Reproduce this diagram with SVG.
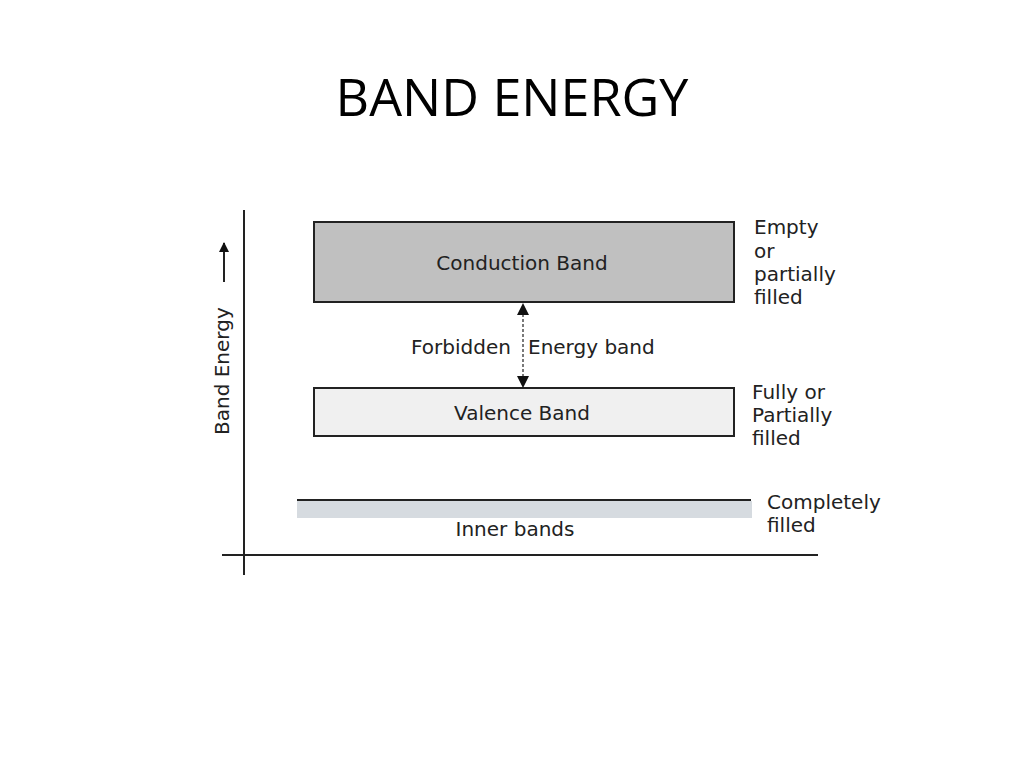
<svg xmlns="http://www.w3.org/2000/svg" width="1024" height="768" viewBox="0 0 1024 768">
<style>
text{font-family:"DejaVu Sans","Liberation Sans",sans-serif;fill:#222;font-size:20px}
.b{stroke:#222;stroke-width:2}
</style>
<defs>
<marker id="ah" markerWidth="10" markerHeight="10" refX="9" refY="5" orient="auto" markerUnits="userSpaceOnUse"><path d="M0,0L10,5L0,10z" fill="#111"/></marker>
</defs>
<rect width="1024" height="768" fill="#fff"/>
<text x="512" y="116" text-anchor="middle" style="font-family:'Open Sans','Liberation Sans',sans-serif;font-size:52px;fill:#000">BAND ENERGY</text>
<g id="axes" class="b">
<line x1="244" y1="210" x2="244" y2="575"/>
<line x1="222" y1="555" x2="818" y2="555"/>
</g>
<g id="ylabel">
<line x1="224" y1="282" x2="224" y2="243" stroke="#222" stroke-width="2" marker-end="url(#ah)"/>
<text transform="translate(229,435) rotate(-90)">Band Energy</text>
</g>
<g id="conduction">
<rect x="314" y="222" width="420" height="80" fill="#c0c0c0" class="b"/>
<text x="522" y="270" text-anchor="middle">Conduction Band</text>
<text x="754" y="234">Empty</text><text x="754" y="258">or</text><text x="754" y="281">partially</text><text x="754" y="304">filled</text>
</g>
<g id="valence">
<rect x="314" y="388" width="420" height="48" fill="#f0f0f0" class="b"/>
<text x="522" y="420" text-anchor="middle">Valence Band</text>
<text x="752" y="399">Fully or</text><text x="752" y="422">Partially</text><text x="752" y="445">filled</text>
</g>
<g id="inner">
<rect x="297" y="501" width="455" height="17" fill="#d6dbe0"/>
<line x1="297" y1="500" x2="751" y2="500" class="b"/>
<text x="515" y="536" text-anchor="middle">Inner bands</text>
<text x="767" y="509">Completely</text><text x="767" y="532">filled</text>
</g>
<g id="connectors">
<line x1="523" y1="314" x2="523" y2="376" stroke="#222" stroke-width="1.2" stroke-dasharray="3,2"/>
<path d="M523,303l-6,12h12z M523,388l-6,-12h12z" fill="#111"/>
</g>
<text x="411" y="354">Forbidden</text><text x="528" y="354">Energy band</text>
</svg>
